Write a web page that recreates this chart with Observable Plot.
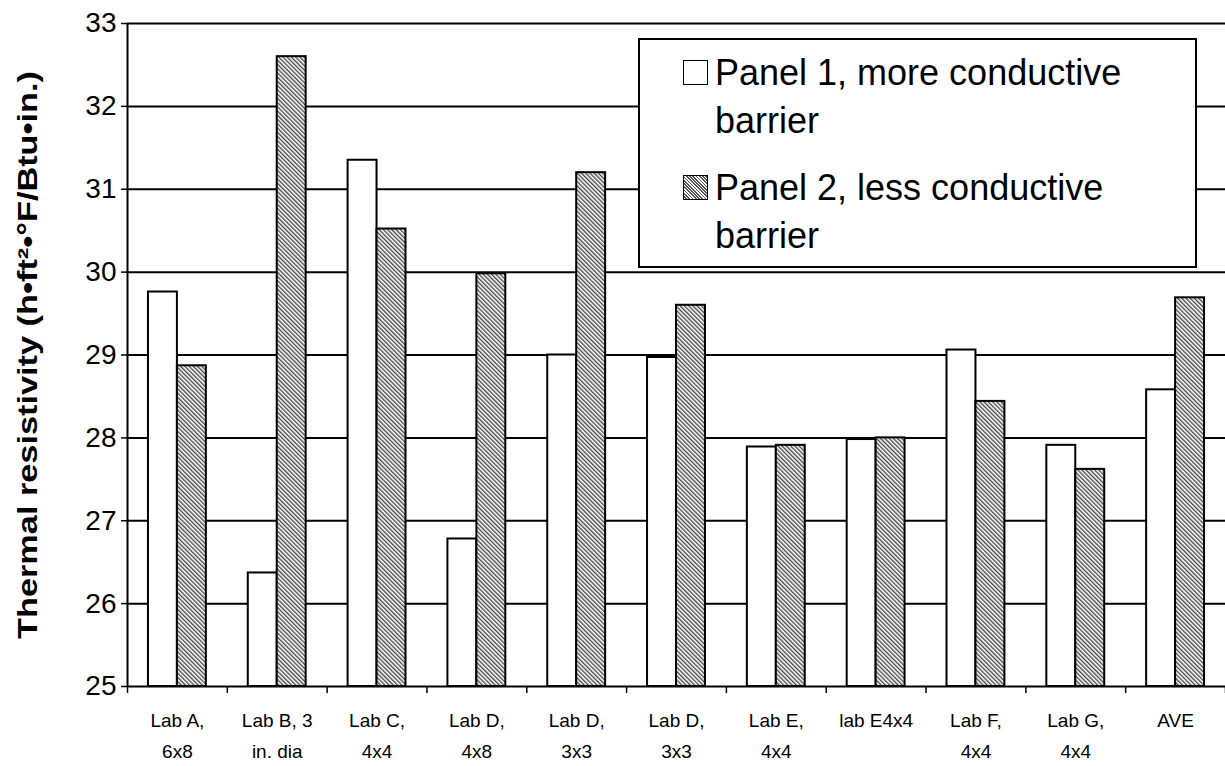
<!DOCTYPE html>
<html>
<head>
<meta charset="utf-8">
<script src="https://cdn.jsdelivr.net/npm/d3@7"></script>
<script src="https://cdn.jsdelivr.net/npm/@observablehq/plot@0.6"></script>
<style>
  html, body { margin: 0; padding: 0; background: #fff; overflow: hidden; }
  #chart { position: relative; width: 1225px; height: 766px; font-family: "Liberation Sans", Arial, sans-serif; }
  .legend {
    position: absolute; left: 638px; top: 38px; width: 559px; height: 230px;
    border: 2px solid #000; background: #fff; box-sizing: border-box;
    font-size: 36px; color: #000;
  }
  .entry { position: absolute; left: 0; width: 100%; }
  .swatch {
    position: absolute; left: 43px; top: 11px; width: 25px; height: 25px;
    border: 1.5px solid #000; box-sizing: border-box; background: #fff;
  }
  .swatch.hatched {
    background: repeating-linear-gradient(45deg, #fff 0 1.1px, #555 1.1px 2.3px);
  }
  .label { position: absolute; left: 75px; top: 0; white-space: nowrap; line-height: 48px; }
</style>
</head>
<body>
<div id="chart"></div>
<script>
// Thermal resistivity of two test panels, by laboratory and specimen size
const categories = ["Lab A,\n6x8", "Lab B, 3\nin. dia", "Lab C,\n4x4", "Lab D,\n4x8", "Lab D,\n3x3",
                    "Lab D,\n3x3", "Lab E,\n4x4", "lab E4x4", "Lab F,\n4x4", "Lab G,\n4x4", "AVE"];
const panel1 = [29.76, 26.37, 31.35, 26.78, 29.00, 28.97, 27.89, 27.98, 29.06, 27.91, 28.58];
const panel2 = [28.87, 32.60, 30.52, 29.98, 31.20, 29.60, 27.91, 28.00, 28.44, 27.62, 29.69];
const seriesNames = ["Panel 1, more conductive\nbarrier", "Panel 2, less conductive\nbarrier"];
const yTicks = [25, 26, 27, 28, 29, 30, 31, 32, 33];
const yTitle = "Thermal resistivity (h\u2022ft\u00b2\u2022\u00b0F/Btu\u2022in.)";

// one row per bar: category index, series, value
const rows = [
  ...panel1.map((v, i) => ({i, series: 0, value: v})),
  ...panel2.map((v, i) => ({i, series: 1, value: v}))
];
const barW = 0.29; // bar width as a fraction of a category slot

const plot = Plot.plot({
  width: 1225,
  height: 766,
  marginLeft: 127,
  marginRight: 0,
  marginTop: 23,
  marginBottom: 80,
  style: {fontFamily: "'Liberation Sans', Arial, sans-serif", background: "#fff", color: "#000"},
  x: {domain: [0, categories.length], axis: null},
  y: {domain: [25, 33], axis: null},
  marks: [
    Plot.gridY(yTicks, {stroke: "#000", strokeOpacity: 1, strokeWidth: 2}),
    Plot.ruleX([0], {stroke: "#000", strokeWidth: 2}),
    Plot.axisY(yTicks, {tickSize: 6, tickPadding: 5, fontSize: 28, strokeWidth: 1.5, tickFormat: d => String(d), label: null}),
    Plot.axisX(d3.range(0, categories.length + 1), {tickSize: 7, strokeWidth: 1.5, tickFormat: () => "", label: null}),
    Plot.rect(rows, {
      x1: d => d.i + 0.5 - (d.series === 0 ? barW : 0),
      x2: d => d.i + 0.5 + (d.series === 1 ? barW : 0),
      y1: () => 25,
      y2: "value",
      fill: d => d.series === 0 ? "#fff" : "url(#hatch)",
      stroke: "#000",
      strokeWidth: 2
    }),
    Plot.text(categories, {
      x: (d, i) => i + 0.5,
      frameAnchor: "bottom",
      text: d => d,
      dy: 19,
      lineAnchor: "top",
      lineHeight: 1.63,
      fontSize: 19
    }),
    Plot.text([yTitle], {
      frameAnchor: "left",
      textAnchor: "middle",
      rotate: -90,
      dx: -99,
      fontSize: 28,
      fontWeight: "bold",
      className: "ytitle"
    })
  ]
});

// fine diagonal hatch used by the Panel 2 bars
const ns = "http://www.w3.org/2000/svg";
const defs = document.createElementNS(ns, "defs");
defs.innerHTML = `<pattern id="hatch" patternUnits="userSpaceOnUse" width="3" height="3" patternTransform="rotate(-45)">
  <rect width="3" height="3" fill="#fff"/>
  <rect x="0" width="1.4" height="3" fill="#4a4a4a"/>
</pattern>`;
plot.insertBefore(defs, plot.firstChild);

// stretch the axis title along its length
plot.querySelectorAll(".ytitle text").forEach(t => {
  t.setAttribute("textLength", 568);
  t.setAttribute("lengthAdjust", "spacingAndGlyphs");
});

const chart = document.getElementById("chart");
chart.appendChild(plot);

// legend box drawn over the plot area
const legend = document.createElement("div");
legend.className = "legend";
seriesNames.forEach((name, k) => {
  const entry = document.createElement("div");
  entry.className = "entry";
  entry.style.top = (k === 0 ? 9 : 124) + "px";
  const sw = document.createElement("div");
  sw.className = "swatch" + (k === 1 ? " hatched" : "");
  const lab = document.createElement("div");
  lab.className = "label";
  lab.innerHTML = name.split("\n").join("<br>");
  entry.appendChild(sw);
  entry.appendChild(lab);
  legend.appendChild(entry);
});
chart.appendChild(legend);
</script>
</body>
</html>
